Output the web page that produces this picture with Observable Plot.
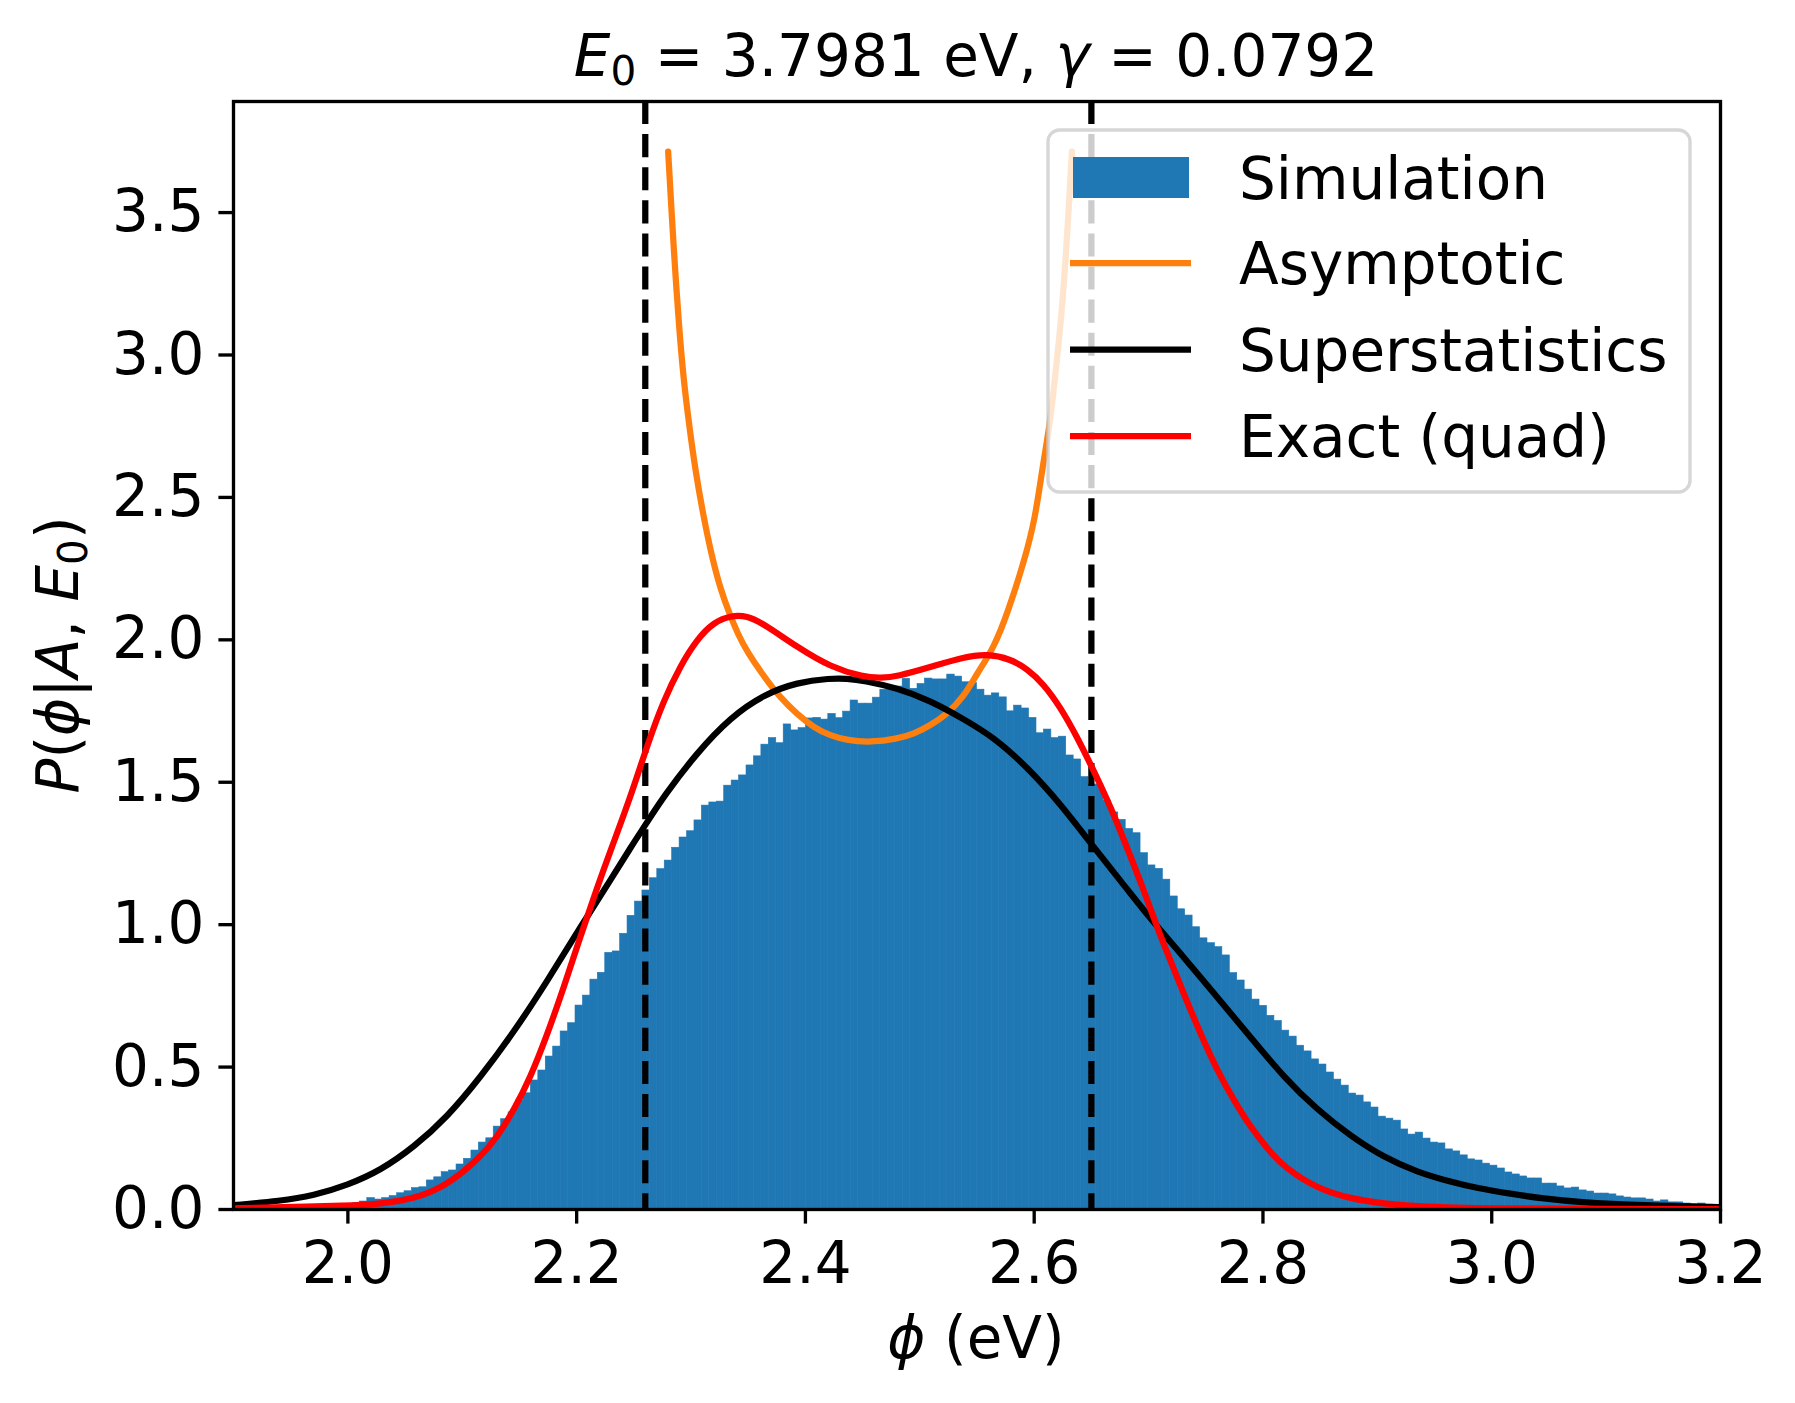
<!DOCTYPE html>
<html>
<head>
<meta charset="utf-8">
<script src="https://cdn.jsdelivr.net/npm/d3@7"></script>
<script src="https://cdn.jsdelivr.net/npm/@observablehq/plot@0.6"></script>
<style>
  html, body { margin: 0; padding: 0; background: white; }
  svg { display: block; }
</style>
</head>
<body>
<div id="chart"></div>
<script>
// ---------- DATA ----------
// Histogram (density) : 190 bins of width 0.0065 starting at 1.965
const binStart = 1.965;
const binWidth = 0.0065;
const simDensity = [
  0.003,0.004,0.006,0.008,0.012,0.018,0.022,0.028,0.040,0.035,
  0.040,0.047,0.057,0.064,0.075,0.078,0.102,0.113,0.131,0.137,
  0.158,0.178,0.207,0.235,0.250,0.291,0.317,0.341,0.383,0.408,
  0.453,0.488,0.537,0.572,0.625,0.654,0.716,0.751,0.807,0.831,
  0.901,0.906,0.968,1.031,1.081,1.120,1.163,1.195,1.225,1.270,
  1.306,1.328,1.366,1.418,1.429,1.432,1.488,1.506,1.524,1.559,
  1.591,1.632,1.655,1.637,1.703,1.682,1.690,1.724,1.726,1.720,
  1.740,1.725,1.748,1.787,1.776,1.776,1.797,1.825,1.828,1.836,
  1.863,1.828,1.845,1.864,1.861,1.861,1.878,1.871,1.851,1.848,
  1.825,1.804,1.812,1.798,1.749,1.769,1.759,1.726,1.672,1.685,
  1.655,1.660,1.594,1.580,1.518,1.492,1.492,1.436,1.394,1.368,
  1.336,1.321,1.251,1.208,1.196,1.158,1.099,1.054,1.032,0.991,
  0.952,0.935,0.921,0.892,0.830,0.804,0.772,0.737,0.715,0.680,
  0.662,0.628,0.607,0.575,0.555,0.527,0.509,0.481,0.456,0.435,
  0.407,0.400,0.376,0.358,0.326,0.319,0.312,0.281,0.263,0.270,
  0.249,0.235,0.232,0.211,0.204,0.190,0.176,0.172,0.161,0.154,
  0.144,0.130,0.123,0.116,0.109,0.109,0.091,0.091,0.081,0.074,
  0.077,0.067,0.063,0.056,0.056,0.053,0.046,0.042,0.039,0.039,
  0.035,0.028,0.032,0.025,0.025,0.021,0.018,0.021,0.017,0.014
];

// Asymptotic curve
const asymX = [2.280,2.283,2.286,2.2895,2.2935,2.2985,2.3036,2.311,2.3186,2.326,2.3337,2.341,2.349,2.3636,2.378,2.393,2.4075,2.422,2.4365,2.457,2.480,2.4948,2.509,2.524,2.538,2.550,2.565,2.577,2.592,2.601,2.607,2.6135,2.618,2.623,2.627,2.630,2.633];
const asymY = [3.714,3.50,3.304,3.10,2.912,2.75,2.599,2.43,2.285,2.175,2.090,2.020,1.958,1.872,1.797,1.738,1.692,1.663,1.647,1.640,1.652,1.670,1.699,1.740,1.798,1.881,1.974,2.097,2.285,2.43,2.599,2.75,2.912,3.10,3.304,3.50,3.714];

// Superstatistics curve
const superX = [1.90,1.941,1.970,2.000,2.0285,2.0577,2.0868,2.116,2.145,2.174,2.203,2.2325,2.247,2.2617,2.276,2.3054,2.3345,2.3636,2.3928,2.422,2.436,2.451,2.480,2.509,2.537,2.5647,2.594,2.623,2.652,2.681,2.7017,2.7308,2.760,2.7892,2.8183,2.8475,2.8766,2.9057,2.935,2.964,2.987,3.0165,3.0456,3.0747,3.133,3.20];
const superY = [0.015,0.030,0.049,0.086,0.137,0.219,0.324,0.465,0.622,0.800,0.990,1.175,1.270,1.360,1.450,1.605,1.728,1.808,1.851,1.865,1.864,1.857,1.831,1.787,1.725,1.658,1.553,1.424,1.272,1.126,1.020,0.886,0.745,0.605,0.464,0.350,0.258,0.183,0.131,0.097,0.075,0.055,0.038,0.026,0.014,0.008];

// Exact (quad) curve
const exactX = [1.90,1.941,2.00,2.0285,2.0577,2.0868,2.116,2.1305,2.145,2.1597,2.174,2.1888,2.203,2.218,2.2296,2.247,2.2617,2.276,2.2908,2.3054,2.320,2.3345,2.349,2.3636,2.393,2.422,2.451,2.466,2.480,2.509,2.538,2.559,2.579,2.594,2.608,2.623,2.6376,2.652,2.667,2.681,2.696,2.710,2.725,2.7308,2.7454,2.760,2.7746,2.7892,2.804,2.8183,2.8475,2.8766,2.9057,2.935,2.97,3.0,3.1,3.2];
const exactY = [0.004,0.008,0.013,0.020,0.037,0.084,0.184,0.254,0.348,0.465,0.611,0.780,0.956,1.131,1.260,1.447,1.630,1.787,1.910,2.003,2.062,2.085,2.085,2.056,1.974,1.904,1.869,1.866,1.871,1.904,1.939,1.951,1.933,1.898,1.846,1.763,1.658,1.541,1.412,1.272,1.120,0.962,0.816,0.757,0.617,0.488,0.383,0.289,0.213,0.149,0.073,0.038,0.020,0.011,0.006,0.004,0.002,0.001];

// Vertical dashed markers
const vlines = [2.26, 2.65];

// Ticks
const xTicks = [2.0, 2.2, 2.4, 2.6, 2.8, 3.0, 3.2];
const yTicks = [0.0, 0.5, 1.0, 1.5, 2.0, 2.5, 3.0, 3.5];

const legendLabels = ["Simulation", "Asymptotic", "Superstatistics", "Exact (quad)"];

// ---------- BUILD ----------
const bins = simDensity.map((v, i) => ({x1: binStart + i * binWidth, x2: binStart + (i + 1) * binWidth, y: v}));
const toPts = (xs, ys) => xs.map((x, i) => ({x, y: ys[i]}));
const asym = toPts(asymX, asymY);
const sup = toPts(superX, superY);
const exact = toPts(exactX, exactY);

const FONT = "DejaVu Sans";
const FS = 58;
const LW = 6.25;

const plot = Plot.plot({
  width: 1795,
  height: 1403,
  marginLeft: 233,
  marginRight: 75,
  marginTop: 101,
  marginBottom: 194,
  style: {fontFamily: FONT, fontSize: FS + "px", background: "white", color: "black", overflow: "visible"},
  x: {domain: [1.9, 3.2]},
  y: {domain: [0, 3.89]},
  marks: [
    Plot.rect(bins, {x1: "x1", x2: "x2", y1: 0, y2: "y", fill: "#1f77b4", stroke: "#1f77b4", strokeWidth: 0.6, clip: true}),
    Plot.ruleX(vlines, {stroke: "black", strokeWidth: LW, strokeDasharray: "23.1,10"}),
    Plot.line(asym, {x: "x", y: "y", stroke: "#ff7f0e", strokeWidth: LW, curve: "basis", clip: true}),
    Plot.line(sup, {x: "x", y: "y", stroke: "black", strokeWidth: LW, curve: "basis", clip: true}),
    Plot.line(exact, {x: "x", y: "y", stroke: "#ff0000", strokeWidth: LW, curve: "basis", clip: true}),
    Plot.axisX({ticks: xTicks, tickFormat: d => d.toFixed(1), tickSize: 14.6, tickPadding: 18, strokeWidth: 3.33, fontSize: FS, label: null}),
    Plot.axisY({ticks: yTicks, tickFormat: d => d.toFixed(1), tickSize: 14.6, tickPadding: 14.6, strokeWidth: 3.33, fontSize: FS, label: null}),
    Plot.frame({stroke: "black", strokeWidth: 3.33})
  ]
});

document.getElementById("chart").appendChild(plot);

const svg = d3.select(plot);

// Title
const title = svg.append("text")
  .attr("x", 976).attr("y", 76)
  .attr("text-anchor", "middle")
  .attr("font-family", FONT).attr("font-size", FS).attr("fill", "black");
title.append("tspan").attr("font-style", "italic").text("E");
title.append("tspan").attr("font-size", FS * 0.7).attr("dy", 9).text("0");
title.append("tspan").attr("dy", -9).text(" = 3.7981 eV, ");
title.append("tspan").attr("font-style", "italic").text("γ");
title.append("tspan").text(" = 0.0792");

// X label
const xl = svg.append("text")
  .attr("x", 976).attr("y", 1358)
  .attr("text-anchor", "middle")
  .attr("font-family", FONT).attr("font-size", FS).attr("fill", "black");
xl.append("tspan").attr("font-style", "italic").text("ϕ");
xl.append("tspan").text(" (eV)");

// Y label
const yl = svg.append("text")
  .attr("transform", "translate(78,655) rotate(-90)")
  .attr("text-anchor", "middle")
  .attr("font-family", FONT).attr("font-size", FS).attr("fill", "black");
yl.append("tspan").attr("font-style", "italic").text("P");
yl.append("tspan").text("(");
yl.append("tspan").attr("font-style", "italic").text("ϕ");
yl.append("tspan").text("|");
yl.append("tspan").attr("font-style", "italic").text("A");
yl.append("tspan").text(", ");
yl.append("tspan").attr("font-style", "italic").text("E");
yl.append("tspan").attr("font-size", FS * 0.7).attr("dy", 9).text("0");
yl.append("tspan").attr("dy", -9).text(")");

// Legend
const lg = svg.append("g").attr("text-anchor", "start");
lg.append("rect")
  .attr("x", 1048).attr("y", 130).attr("width", 642).attr("height", 362)
  .attr("rx", 11.6).attr("ry", 11.6)
  .attr("fill", "white").attr("fill-opacity", 0.8)
  .attr("stroke", "#cccccc").attr("stroke-opacity", 0.8).attr("stroke-width", 3.33);
const rowC = [177.5, 263, 349.5, 436];
lg.append("rect").attr("x", 1073).attr("y", 157).attr("width", 116).attr("height", 41).attr("fill", "#1f77b4");
const lineCols = [null, "#ff7f0e", "black", "#ff0000"];
for (let i = 1; i < 4; i++) {
  lg.append("line").attr("x1", 1070).attr("x2", 1191).attr("y1", rowC[i]).attr("y2", rowC[i])
    .attr("stroke", lineCols[i]).attr("stroke-width", LW);
}
legendLabels.forEach((t, i) => {
  lg.append("text").attr("x", 1239).attr("y", rowC[i] + 21)
    .attr("text-anchor", "start")
    .attr("font-family", FONT).attr("font-size", FS).attr("fill", "black").text(t);
});
</script>
</body>
</html>
